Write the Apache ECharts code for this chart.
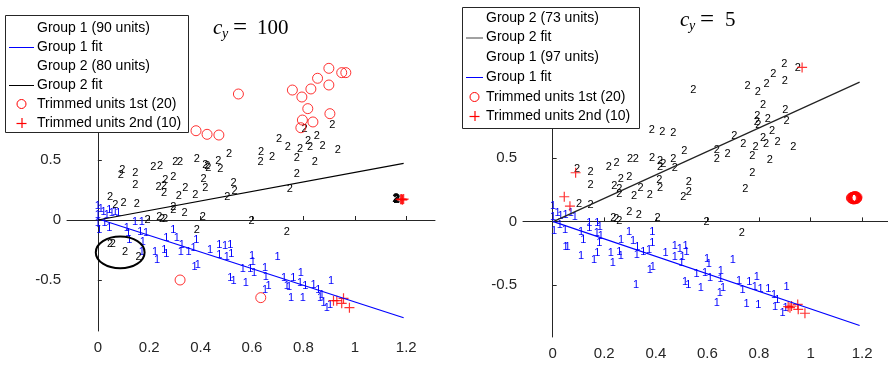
<!DOCTYPE html>
<html>
<head>
<meta charset="utf-8">
<script src="https://cdn.jsdelivr.net/npm/echarts@6/dist/echarts.min.js"></script>
<style>
  html, body { margin: 0; padding: 0; background: #fff; }
  #chart { width: 888px; height: 365px; }
</style>
</head>
<body>
<div id="chart"></div>
<script>
  // 刻度
  var xTicks = [0, 0.2, 0.4, 0.6, 0.8, 1, 1.2];
  var yTicks = [-0.5, 0, 0.5];

  // 左图 c_y = 100
  var g1Left = [
    [0.0, 0.117], [0.0, 0.042], [0.022, 0.069], [0.035, 0.042], [0.054, 0.056], [0.067, 0.069], [0.080, 0.056],
    [0.012, 0.095], [0.045, 0.085], [0.0, -0.028], [0.006, -0.083], [0.045, -0.069], [0.026, -0.028],
    [0.113, -0.069], [0.119, -0.111], [0.145, -0.014], [0.171, -0.014], [0.165, -0.097], [0.188, -0.111],
    [0.122, -0.167], [0.175, -0.181], [0.171, -0.264], [0.223, -0.264], [0.230, -0.333], [0.259, -0.25],
    [0.266, -0.283], [0.266, -0.153], [0.294, -0.083], [0.307, -0.153], [0.327, -0.208], [0.323, -0.264],
    [0.353, -0.264], [0.372, -0.236], [0.383, -0.167], [0.376, -0.394], [0.389, -0.375], [0.437, -0.25],
    [0.473, -0.208], [0.473, -0.292], [0.495, -0.217], [0.515, -0.208], [0.502, -0.311], [0.519, -0.283],
    [0.515, -0.486], [0.528, -0.508], [0.564, -0.411], [0.576, -0.528], [0.600, -0.300], [0.603, -0.347],
    [0.593, -0.411], [0.608, -0.444], [0.651, -0.397], [0.654, -0.472], [0.664, -0.55], [0.651, -0.583],
    [0.699, -0.311], [0.725, -0.486], [0.735, -0.55], [0.744, -0.561], [0.761, -0.486], [0.752, -0.653],
    [0.790, -0.444], [0.787, -0.528], [0.798, -0.653], [0.807, -0.55], [0.839, -0.542], [0.858, -0.583],
    [0.865, -0.653], [0.872, -0.625], [0.908, -0.506], [0.891, -0.736], [0.878, -0.689], [0.904, -0.708]
  ];
  var g2Left = [
    [0.804, 0.758], [0.912, 0.79], [0.705, 0.672], [0.739, 0.606], [0.787, 0.59], [0.818, 0.66], [0.852, 0.70],
    [0.826, 0.606], [0.874, 0.617], [0.934, 0.583], [0.635, 0.564], [0.678, 0.528], [0.633, 0.486],
    [0.774, 0.519], [0.844, 0.481], [0.774, 0.383], [0.747, 0.256], [0.511, 0.547], [0.469, 0.492],
    [0.477, 0.425], [0.430, 0.436], [0.426, 0.448], [0.418, 0.458], [0.385, 0.506], [0.411, 0.339],
    [0.418, 0.264], [0.528, 0.306], [0.532, 0.242], [0.504, 0.189], [0.379, 0.208], [0.340, 0.264],
    [0.315, 0.203], [0.294, 0.356], [0.263, 0.333], [0.236, 0.278], [0.258, 0.222], [0.258, 0.283],
    [0.294, 0.111], [0.301, 0.486], [0.320, 0.486], [0.242, 0.453], [0.216, 0.439], [0.146, 0.392],
    [0.146, 0.292], [0.095, 0.417], [0.089, 0.375], [0.048, 0.194], [0.068, 0.125], [0.100, 0.139],
    [0.152, 0.133], [0.294, 0.083], [0.337, 0.056], [0.239, 0.022], [0.250, 0.012], [0.262, 0.006],
    [0.193, 0.0], [0.408, 0.028], [0.385, -0.083], [0.598, -0.006], [0.735, -0.097], [0.048, -0.203],
    [0.058, -0.203], [0.106, -0.269], [0.158, -0.311],
    [1.158, 0.172], [1.162, 0.168], [1.165, 0.176], [1.160, 0.180], [1.163, 0.165], [1.161, 0.174]
  ];
  var fit1Left = [[0, 0.01], [1.19, -0.815]];
  var fit2Left = [[0, 0.0], [1.19, 0.472]];
  var trim1Left = [
    [0.547, 1.05], [0.757, 1.083], [0.794, 1.025], [0.829, 1.092], [0.855, 1.181], [0.899, 1.264],
    [0.899, 1.125], [0.949, 1.228], [0.965, 1.228], [0.817, 0.928], [0.903, 0.886], [0.796, 0.833],
    [0.837, 0.817], [0.790, 0.769], [0.382, 0.744], [0.425, 0.714], [0.471, 0.708], [0.320, -0.5],
    [0.634, -0.647]
  ];
  var trim2Left = [
    [0.917, -0.672], [0.930, -0.672], [0.949, -0.694], [0.956, -0.653], [0.979, -0.731],
    [1.178, 0.172], [1.182, 0.175], [1.186, 0.170], [1.190, 0.174], [1.184, 0.168]
  ];
  // 圈出的点 [x, y, 半宽, 半高]
  var ringLeft = [[0.087, -0.27, 0.095, 0.132]];

  // 右图 c_y = 5
  var g2Right = [
    [0.898, 1.244], [0.950, 1.205], [0.855, 1.165], [0.900, 1.105], [0.829, 1.081], [0.756, 1.065],
    [0.795, 1.016], [0.545, 1.034], [0.816, 0.921], [0.902, 0.876], [0.907, 0.790], [0.793, 0.832],
    [0.834, 0.806], [0.797, 0.758], [0.791, 0.784], [0.851, 0.711], [0.816, 0.661], [0.827, 0.606],
    [0.872, 0.622], [0.933, 0.587], [0.704, 0.672], [0.739, 0.606], [0.787, 0.587], [0.774, 0.517],
    [0.842, 0.483], [0.774, 0.383], [0.747, 0.257], [0.636, 0.561], [0.636, 0.491], [0.678, 0.530],
    [0.510, 0.554], [0.468, 0.488], [0.429, 0.449], [0.416, 0.475], [0.385, 0.501], [0.474, 0.417],
    [0.416, 0.430], [0.413, 0.325], [0.416, 0.260], [0.528, 0.307], [0.528, 0.233], [0.506, 0.189],
    [0.377, 0.207], [0.341, 0.260], [0.316, 0.202], [0.384, 0.724], [0.425, 0.701], [0.468, 0.698],
    [0.297, 0.351], [0.264, 0.331], [0.239, 0.278], [0.258, 0.252], [0.258, 0.213], [0.300, 0.488],
    [0.322, 0.488], [0.248, 0.457], [0.218, 0.430], [0.147, 0.391], [0.147, 0.286], [0.095, 0.409],
    [0.102, 0.136], [0.147, 0.128], [0.297, 0.076], [0.334, 0.050], [0.235, 0.024], [0.247, 0.016],
    [0.258, 0.005], [0.407, 0.024], [0.597, -0.003], [0.733, -0.095]
  ];
  var g1Right = [
    [0.002, 0.120], [0.002, 0.031], [0.019, 0.068], [0.031, 0.042], [0.050, 0.050], [0.070, 0.063],
    [0.086, 0.036], [0.005, -0.074], [0.028, -0.029], [0.048, -0.069], [0.050, -0.2], [0.058, -0.2],
    [0.110, -0.082], [0.119, -0.147], [0.142, -0.016], [0.142, -0.055], [0.173, -0.016], [0.171, -0.090],
    [0.183, -0.042], [0.187, -0.116], [0.110, -0.273], [0.160, -0.305], [0.173, -0.247], [0.181, -0.173],
    [0.225, -0.252], [0.233, -0.331], [0.258, -0.239], [0.264, -0.273], [0.265, -0.147], [0.296, -0.082],
    [0.312, -0.155], [0.328, -0.2], [0.326, -0.265], [0.351, -0.239], [0.374, -0.226], [0.386, -0.082],
    [0.386, -0.173], [0.377, -0.383], [0.388, -0.362], [0.323, -0.502], [0.438, -0.247], [0.474, -0.194],
    [0.474, -0.279], [0.493, -0.220], [0.515, -0.194], [0.504, -0.283], [0.519, -0.239], [0.500, -0.331],
    [0.513, -0.476], [0.526, -0.502], [0.558, -0.415], [0.574, -0.528], [0.599, -0.297], [0.605, -0.336],
    [0.591, -0.410], [0.610, -0.444], [0.652, -0.389], [0.651, -0.454], [0.661, -0.528], [0.648, -0.567],
    [0.636, -0.646], [0.698, -0.305], [0.723, -0.468], [0.736, -0.541], [0.762, -0.476], [0.752, -0.651],
    [0.791, -0.441], [0.784, -0.520], [0.797, -0.659], [0.806, -0.535], [0.836, -0.535], [0.858, -0.580],
    [0.862, -0.672], [0.871, -0.620], [0.907, -0.515], [0.891, -0.724], [0.903, -0.685]
  ];
  var fit2Right = [[0, -0.004], [1.19, 1.097]];
  var fit1Right = [[0, 0.0], [1.19, -0.82]];
  var trim1Right = [
    [1.160, 0.186], [1.163, 0.190], [1.166, 0.183], [1.168, 0.188], [1.170, 0.186], [1.172, 0.181],
    [1.174, 0.190], [1.176, 0.185], [1.171, 0.195], [1.165, 0.178], [1.178, 0.184], [1.169, 0.176],
    [1.175, 0.196], [1.162, 0.180], [1.180, 0.189], [1.167, 0.192], [1.173, 0.187], [1.158, 0.184],
    [1.177, 0.180], [1.170, 0.190]
  ];
  var trim2Right = [
    [0.045, 0.194], [0.067, 0.120], [0.089, 0.383], [0.967, 1.213], [0.913, -0.672], [0.926, -0.667],
    [0.950, -0.654], [0.952, -0.693], [0.978, -0.724], [0.920, -0.680]
  ];

  var FONT = '"Liberation Sans", Arial, sans-serif';
  var SERIF = '"Liberation Serif", "DejaVu Serif", serif';
  var PLUS = 'path://M5,0 L5,10 M0,5 L10,5';

  // 用文字 1 / 2 作为散点标记
  function textSeries(data, idx, label, color) {
    return {
      type: 'custom',
      xAxisIndex: idx,
      yAxisIndex: idx,
      data: data,
      silent: true,
      renderItem: function (params, api) {
        var p = api.coord([api.value(0), api.value(1)]);
        return {
          type: 'text',
          x: p[0],
          y: p[1],
          style: {
            text: label,
            fill: color,
            font: '11px ' + FONT,
            align: 'center',
            verticalAlign: 'middle'
          }
        };
      }
    };
  }

  function fitSeries(data, idx, color) {
    return {
      type: 'line',
      xAxisIndex: idx,
      yAxisIndex: idx,
      data: data,
      showSymbol: false,
      silent: true,
      lineStyle: { color: color, width: 1.2 }
    };
  }

  function circleSeries(data, idx) {
    return {
      type: 'scatter',
      xAxisIndex: idx,
      yAxisIndex: idx,
      data: data,
      symbol: 'circle',
      symbolSize: 10,
      silent: true,
      itemStyle: { color: 'transparent', borderColor: '#ff0000', borderWidth: 1 }
    };
  }

  function plusSeries(data, idx) {
    return {
      type: 'scatter',
      xAxisIndex: idx,
      yAxisIndex: idx,
      data: data,
      symbol: PLUS,
      symbolSize: 10,
      silent: true,
      itemStyle: { color: 'transparent', borderColor: '#ff0000', borderWidth: 1.2 }
    };
  }

  function xAxisCfg(idx, min, max) {
    return {
      type: 'value', gridIndex: idx, min: min, max: max,
      axisLine: { lineStyle: { color: '#262626', width: 1 } },
      axisTick: { inside: true, length: 4, customValues: xTicks, lineStyle: { color: '#262626' } },
      axisLabel: { customValues: xTicks, color: '#262626', fontSize: 15, fontFamily: FONT, margin: 9 },
      splitLine: { show: false }
    };
  }

  function yAxisCfg(idx, min, max) {
    return {
      type: 'value', gridIndex: idx, min: min, max: max,
      axisLine: { show: true, lineStyle: { color: '#262626', width: 1 } },
      axisTick: { show: true, inside: true, length: 4, customValues: yTicks, lineStyle: { color: '#262626' } },
      axisLabel: { customValues: yTicks, color: '#262626', fontSize: 15, fontFamily: FONT, margin: 6 },
      splitLine: { show: false }
    };
  }

  // 图例（手工绘制）
  function legendBox(x, y, w, h, rows, textX, lineX0, lineX1) {
    var els = [{
      type: 'rect', z: 100,
      shape: { x: x + 0.5, y: y + 0.5, width: w, height: h },
      style: { fill: '#fff', stroke: '#262626', lineWidth: 1 }
    }];
    var iconX = (lineX0 + lineX1) / 2;
    rows.forEach(function (r) {
      els.push({
        type: 'text', z: 101, x: textX, y: r.y,
        style: { text: r.text, fill: '#000', font: '14px ' + FONT, verticalAlign: 'middle' }
      });
      if (r.line) {
        els.push({
          type: 'line', z: 101,
          shape: { x1: lineX0, y1: r.y + 0.5, x2: lineX1, y2: r.y + 0.5 },
          style: { stroke: r.line, lineWidth: 1 }
        });
      }
      if (r.icon === 'circle') {
        els.push({
          type: 'circle', z: 101, shape: { cx: iconX, cy: r.y, r: 4.5 },
          style: { fill: 'none', stroke: '#ff0000', lineWidth: 1 }
        });
      }
      if (r.icon === 'plus') {
        els.push({ type: 'line', z: 101, shape: { x1: iconX - 5, y1: r.y + 0.5, x2: iconX + 5, y2: r.y + 0.5 }, style: { stroke: '#ff0000', lineWidth: 1.2 } });
        els.push({ type: 'line', z: 101, shape: { x1: iconX + 0.5, y1: r.y - 5, x2: iconX + 0.5, y2: r.y + 5 }, style: { stroke: '#ff0000', lineWidth: 1.2 } });
      }
    });
    return els;
  }

  function titleEls(x, y, num, numX) {
    return [
      { type: 'text', x: x, y: y, style: { text: 'c', fill: '#000', font: 'italic 21px ' + SERIF, verticalAlign: 'middle' } },
      { type: 'text', x: x + 9, y: y + 6, style: { text: 'y', fill: '#000', font: 'italic 14px ' + SERIF, verticalAlign: 'middle' } },
      { type: 'text', x: x + 20, y: y, style: { text: '=', fill: '#000', font: '25px ' + SERIF, verticalAlign: 'middle' } },
      { type: 'text', x: numX, y: y, style: { text: num, fill: '#000', font: '21px ' + SERIF, verticalAlign: 'middle' } }
    ];
  }

  var chart = echarts.init(document.getElementById('chart'), null, { renderer: 'canvas' });

  var legendLeft = legendBox(5, 15, 183, 117, [
    { y: 28, text: 'Group 1 (90 units)' },
    { y: 47, text: 'Group 1 fit', line: '#0000ff' },
    { y: 66, text: 'Group 2 (80 units)' },
    { y: 85, text: 'Group 2 fit', line: '#000' },
    { y: 104, text: 'Trimmed units 1st (20)', icon: 'circle' },
    { y: 123, text: 'Trimmed units 2nd (10)', icon: 'plus' }
  ], 37, 9, 34);

  var legendRight = legendBox(462, 7, 177, 121, [
    { y: 18, text: 'Group 2 (73 units)' },
    { y: 37.5, text: 'Group 2 fit', line: '#444' },
    { y: 57, text: 'Group 1 (97 units)' },
    { y: 77, text: 'Group 1 fit', line: '#0000ff' },
    { y: 97, text: 'Trimmed units 1st (20)', icon: 'circle' },
    { y: 116, text: 'Trimmed units 2nd (10)', icon: 'plus' }
  ], 486, 466, 483);

  var option = {
    animation: false,
    backgroundColor: '#fff',
    grid: [
      { left: 67, top: 40, width: 368, height: 291 },
      { left: 523, top: 31, width: 365, height: 306 }
    ],
    xAxis: [xAxisCfg(0, -0.12, 1.312), xAxisCfg(1, -0.115, 1.3)],
    yAxis: [yAxisCfg(0, -0.925, 1.5), yAxisCfg(1, -0.911, 1.5)],
    series: [
      textSeries(g1Left, 0, '1', '#0000ff'),
      fitSeries(fit1Left, 0, '#0000ff'),
      textSeries(g2Left, 0, '2', '#000'),
      fitSeries(fit2Left, 0, '#000'),
      {
        type: 'custom',
        xAxisIndex: 0,
        yAxisIndex: 0,
        data: ringLeft,
        silent: true,
        renderItem: function (params, api) {
          var c = api.coord([api.value(0), api.value(1)]);
          var s = api.size([api.value(2), api.value(3)]);
          return {
            type: 'ellipse',
            shape: { cx: c[0], cy: c[1], rx: s[0], ry: s[1] },
            style: { fill: 'none', stroke: '#000', lineWidth: 2 }
          };
        }
      },
      circleSeries(trim1Left, 0),
      plusSeries(trim2Left, 0),

      textSeries(g2Right, 1, '2', '#000'),
      fitSeries(fit2Right, 1, '#222'),
      textSeries(g1Right, 1, '1', '#0000ff'),
      fitSeries(fit1Right, 1, '#0000ff'),
      circleSeries(trim1Right, 1),
      plusSeries(trim2Right, 1)
    ],
    graphic: [].concat(
      titleEls(213, 28, '100', 257),
      titleEls(680, 20, '5', 725),
      legendLeft,
      legendRight
    )
  };

  chart.setOption(option);
</script>
</body>
</html>
